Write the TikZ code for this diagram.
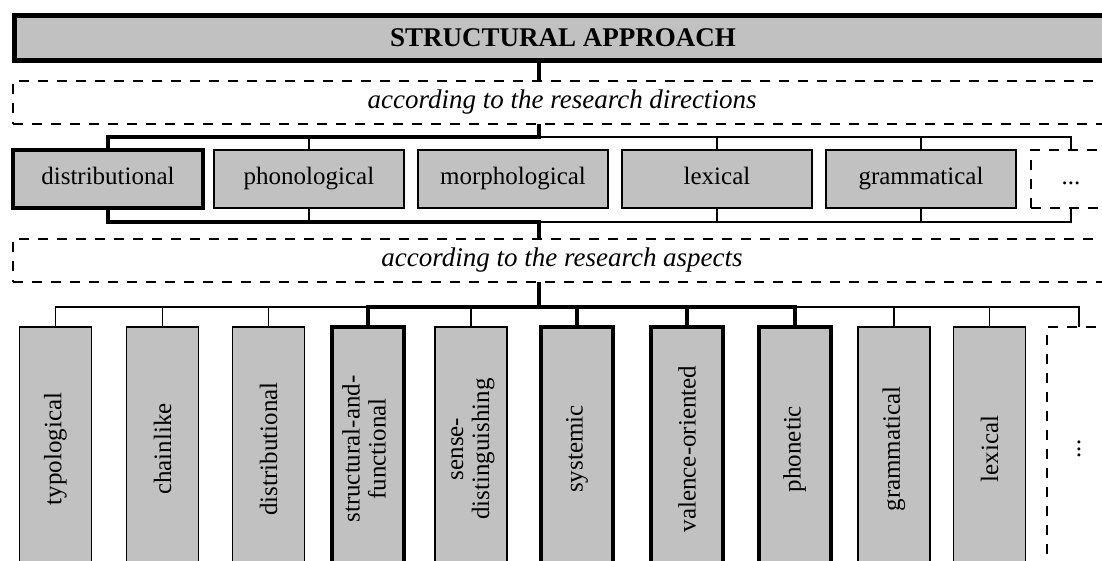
\documentclass[tikz,border=0pt]{standalone}
\usepackage{fontspec}
\setmainfont{Liberation Serif}
\usepackage{tikz}
\usetikzlibrary{positioning,calc}
\definecolor{boxgray}{RGB}{193,193,193}

\begin{document}
\begin{tikzpicture}[x=0.5pt,y=-0.5pt,% one unit = one pixel of the original
					every node/.style={
						align=center,		% lets "\\" break a line
						inner sep=0pt,
						outer sep=0pt,
						font=\fontsize{12.5}{13}\selectfont
						},
					box/.style={rectangle,draw=black,fill=boxgray,line width=0.75pt},
					boldbox/.style={box,line width=2pt},
					dashbox/.style={rectangle,draw=black,line width=1pt,dash pattern=on 5pt off 4.5pt},
					dirbox/.style={minimum width=95pt,minimum height=29pt,text height=8.5pt,text depth=2.5pt},
					aspbox/.style={minimum width=36pt,minimum height=122pt},
					bus/.style={draw,line width=2pt},
					every edge/.style={draw,line width=0.75pt}
					]
\useasboundingbox (0,0) rectangle (1102,561);
\clip (0,0) rectangle (1102,561);
% header and the two dashed captions
\node[box,line width=2.5pt,minimum width=549pt,minimum height=22.5pt,font=\fontsize{13.5}{15}\selectfont\bfseries](H) at (563,38){STRUCTURAL APPROACH};
\node[dashbox,minimum width=549pt,minimum height=21.5pt,font=\fontsize{13.5}{15}\selectfont\itshape](L1) at (562,102.5){according to the research directions};
\node[dashbox,minimum width=549pt,minimum height=21.5pt,font=\fontsize{13.5}{15}\selectfont\itshape](L2) at (562,260.5){according to the research aspects};
% research directions
\node[boldbox,dirbox](D1) at (108,179){distributional};
\node[box,dirbox](D2)[right=5.5pt of D1]{phonological};
\node[box,dirbox](D3)[right=7pt of D2]{morphological};
\node[box,dirbox](D4)[right=7pt of D3]{lexical};
\node[box,dirbox](D5)[right=7pt of D4]{grammatical};
\node[dashbox,dirbox,minimum width=40pt](D6)[right=7.5pt of D5]{...};
% research aspects
\node[box,aspbox](A1) at (55.5,449){\rotatebox{90}{typological}};
\node[box,aspbox](A2) at (162.5,449){\rotatebox{90}{chainlike}};
\node[box,aspbox](A3) at (268.5,449){\rotatebox{90}{distributional}};
\node[boldbox,aspbox](A4) at (367.5,449){\rotatebox{90}{\begin{tabular}{@{}c@{}}structural-and-\\functional\end{tabular}}};
\node[box,aspbox](A5) at (471,449){\rotatebox{90}{\begin{tabular}{@{}c@{}}sense-\\distinguishing\end{tabular}}};
\node[boldbox,aspbox](A6) at (577,449){\rotatebox{90}{systemic}};
\node[boldbox,aspbox](A7) at (687,449){\rotatebox{90}{valence-oriented}};
\node[boldbox,aspbox](A8) at (794.5,449){\rotatebox{90}{phonetic}};
\node[box,aspbox](A9) at (894,449){\rotatebox{90}{grammatical}};
\node[box,aspbox](A10) at (989.5,449){\rotatebox{90}{lexical}};
\node[dashbox,minimum width=32pt,minimum height=122pt](A11) at (1079,449){\rotatebox{90}{...}};
% bus bars
\coordinate (B1) at (539,137);
\coordinate (B2) at (539,222);
\coordinate (B3) at (539,307);
\path[bus]
(H.south -| B1) -- (L1.north -| B1)
(L1.south -| B1) -- (B1) -| (D1.north)
(D1.south) |- (B2) -- (L2.north -| B2)
(L2.south -| B3) -- (B3)
(A4.north) |- (B3) -| (A8.north)
(A6.north) -- (A6.north |- B3)
(A7.north) -- (A7.north |- B3)
;
\path[draw,line width=0.75pt]
(B1) -| (D6.north)
(B2) -| (D6.south)
(A4.north |- B3) -| (A1.north)
(A8.north |- B3) -| (A11.north)
;
\path
(D2.north)edge (D2.north |- B1)
(D4.north)edge (D4.north |- B1)
(D5.north)edge (D5.north |- B1)
(D2.south)edge (D2.south |- B2)
(D4.south)edge (D4.south |- B2)
(D5.south)edge (D5.south |- B2)
(A2.north)edge (A2.north |- B3)
(A3.north)edge (A3.north |- B3)
(A5.north)edge (A5.north |- B3)
(A9.north)edge (A9.north |- B3)
(A10.north)edge (A10.north |- B3)
;
\end{tikzpicture}
\end{document}
